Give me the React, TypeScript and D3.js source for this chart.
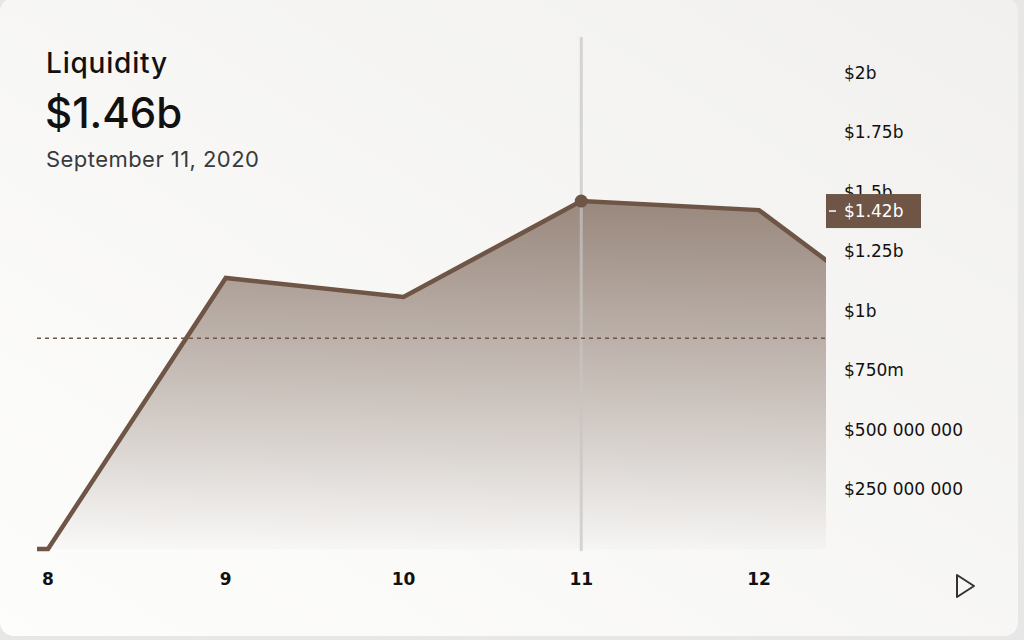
import React from 'react';
import * as d3 from 'd3';

// days of September 2020 and liquidity in USD
const days = [7, 8, 9, 10, 11, 12, 13];
const liquidity = [0, 0, 1.139e9, 1.059e9, 1.462e9, 1.424e9, 0.866e9];
const xTicks = [8, 9, 10, 11, 12];
const yTicks = [2.5e8, 5e8, 7.5e8, 1e9, 1.25e9, 1.5e9, 1.75e9, 2e9];
const yTickLabels = ['$250 000 000', '$500 000 000', '$750m', '$1b', '$1.25b', '$1.5b', '$1.75b', '$2b'];
const averageLine = 0.886e9;
const activeDay = 11;
const cursorValue = 1.42e9;
const cursorLabel = '$1.42b';

const W = 1024;
const H = 640;
const plot = { left: 37, right: 826, top: 37, bottom: 549 };
const brown = '#6e5546';
const axisFont = '"DejaVu Sans", sans-serif';
const titleFont = 'Inter, "Noto Sans", sans-serif';

const App: React.FC = () => {
    const x = d3.scaleLinear().domain([8, 12]).range([48, 759]);
    const y = d3.scaleLinear().domain([0, 2e9]).range([plot.bottom, 73]);

    const pts = days.map((d, i) => [d, liquidity[i]] as [number, number]);
    const line = d3
        .line<[number, number]>()
        .x((d) => x(d[0]))
        .y((d) => y(d[1]));
    const area = d3
        .area<[number, number]>()
        .x((d) => x(d[0]))
        .y0(y(0))
        .y1((d) => y(d[1]));

    const activeIdx = days.indexOf(activeDay);

    return (
        <div style={{ position: 'fixed', left: 0, top: 0 }}>
            <svg width={W} height={H} style={{ display: 'block' }}>
                <defs>
                    <linearGradient id="bg" x1="1" y1="0" x2="0" y2="1">
                        <stop offset="0%" stopColor="#f1f0ef" />
                        <stop offset="100%" stopColor="#fdfdfc" />
                    </linearGradient>
                    <linearGradient id="areaFill" gradientUnits="userSpaceOnUse" x1="0" y1={y(1.46e9)} x2="0" y2={plot.bottom}>
                        <stop offset="0%" stopColor={brown} stopOpacity={0.68} />
                        <stop offset="60%" stopColor={brown} stopOpacity={0.3} />
                        <stop offset="100%" stopColor={brown} stopOpacity={0.02} />
                    </linearGradient>
                    <clipPath id="plotClip">
                        <rect x={plot.left} y={0} width={plot.right - plot.left} height={plot.bottom + 4} />
                    </clipPath>
                </defs>

                <rect x={0} y={0} width={W} height={H} fill="#e7e7e7" />
                <rect x={0} y={-2} width={1018} height={638} rx={14} fill="url(#bg)" />

                <g clipPath="url(#plotClip)">
                    <path d={area(pts) ?? ''} fill="url(#areaFill)" />
                </g>

                <line
                    x1={x(activeDay)}
                    x2={x(activeDay)}
                    y1={plot.top}
                    y2={plot.bottom + 2}
                    stroke="#c8c5c3"
                    strokeOpacity={0.7}
                    strokeWidth={3}
                />

                <line
                    x1={plot.left}
                    x2={plot.right}
                    y1={y(averageLine)}
                    y2={y(averageLine)}
                    stroke={brown}
                    strokeWidth={1.5}
                    strokeDasharray="4 4"
                />

                <g clipPath="url(#plotClip)">
                    <path d={line(pts) ?? ''} fill="none" stroke={brown} strokeWidth={4.5} strokeLinejoin="miter" />
                </g>

                <circle cx={x(activeDay)} cy={y(liquidity[activeIdx])} r={6.5} fill={brown} />

                {/* y axis labels */}
                {yTicks.map((t, i) => (
                    <text
                        key={t}
                        x={844}
                        y={y(t)}
                        dy="0.35em"
                        fontFamily={axisFont}
                        fontSize={17}
                        fill="#111"
                    >
                        {yTickLabels[i]}
                    </text>
                ))}

                {/* cursor value label */}
                <g transform={`translate(${plot.right},${y(cursorValue)})`}>
                    <rect x={0} y={-17} width={95} height={34} fill={brown} />
                    <line x1={3} x2={10} y1={0} y2={0} stroke="#fff" strokeWidth={1.5} />
                    <text x={18} dy="0.35em" fontFamily={axisFont} fontSize={17} fill="#fff">
                        {cursorLabel}
                    </text>
                </g>

                {/* x axis labels */}
                {xTicks.map((t) => (
                    <text
                        key={t}
                        x={x(t)}
                        y={585}
                        textAnchor="middle"
                        fontFamily={axisFont}
                        fontWeight="bold"
                        fontSize={17}
                        fill="#111"
                    >
                        {t}
                    </text>
                ))}

                {/* header */}
                <text x={46} y={73} fontFamily={titleFont} fontSize={28} fontWeight={500} letterSpacing={0.8} fill="#111">
                    Liquidity
                </text>
                <text x={45} y={128} fontFamily={titleFont} fontSize={42} fontWeight={500} fill="#111">
                    $1.46b
                </text>
                <text x={46} y={167} fontFamily={titleFont} fontSize={22} letterSpacing={0.45} fill="#3a3a3c">
                    September 11, 2020
                </text>

                {/* play button */}
                <path d="M957,575 L974,586 L957,597 Z" fill="none" stroke="#333" strokeWidth={2} strokeLinejoin="round" />
            </svg>
        </div>
    );
};

export default App;
